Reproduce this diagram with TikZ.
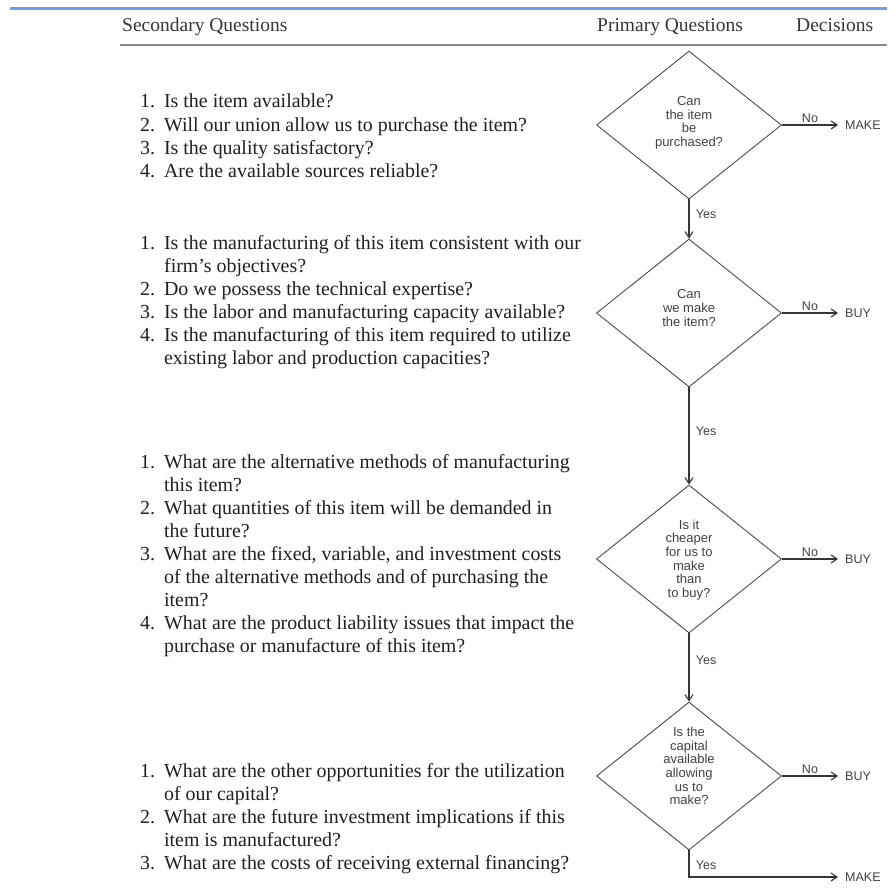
\documentclass[tikz,border=0pt]{standalone}
\usepackage{fontspec}
\setmainfont{Liberation Serif}
\setsansfont{Liberation Sans}
\usetikzlibrary{shapes.geometric,arrows.meta}
\definecolor{ink}{HTML}{231F20}
\definecolor{topblue}{HTML}{6F9FE6}
\definecolor{rulegray}{HTML}{8C8C8C}

\begin{document}
\begin{tikzpicture}[x=1pt,y=-1pt,
  question/.style={draw=ink!80, line width=0.9pt, shape=diamond,
    minimum width=185pt, minimum height=148pt, inner sep=0pt},
  qtext/.style={font=\sffamily\fontsize{13}{13.6}\selectfont, align=center,
    text=ink!85, inner sep=0pt},
  decision/.style={font=\sffamily\fontsize{12.5}{15}\selectfont, text=ink!85,
    anchor=west, inner xsep=7pt, inner ysep=0pt},
  flow/.style={draw=ink!90, line width=1.7pt,
    -{Straight Barb[length=6pt,width=8pt,line width=1.1pt]}},
  tag/.style={font=\sffamily\fontsize{12.5}{15}\selectfont, text=ink!85, inner sep=2pt},
  secondary/.style={font=\fontsize{19.9}{23.1}\selectfont, text=ink,
    anchor=base west, inner sep=0pt},
  header/.style={font=\fontsize{19.5}{23}\selectfont, text=ink!90,
    anchor=base west, inner sep=0pt}
]
% page and frame
\useasboundingbox (0,0) rectangle (887,888);
\fill[white] (0,0) rectangle (887,888);
\draw[topblue, line width=3pt] (10,9) -- (887,9);

% column headings
\node[header] (hsec) at (122,32) {Secondary Questions};
\node[header] (hpri) at (597,32) {Primary Questions};
\node[header] (hdec) at (796,32) {Decisions};
\draw[rulegray, line width=2.5pt] (120,45) -- (887,45);

% secondary questions
\node[secondary] (s1) at (140,108) {\begin{tabular}[t]{@{}l@{\hspace{9pt}}l@{}}
1. & Is the item available?\\
2. & Will our union allow us to purchase the item?\\
3. & Is the quality satisfactory?\\
4. & Are the available sources reliable?
\end{tabular}};

\node[secondary] (s2) at (140,249) {\begin{tabular}[t]{@{}l@{\hspace{9pt}}l@{}}
1. & Is the manufacturing of this item consistent with our\\
   & firm's objectives?\\
2. & Do we possess the technical expertise?\\
3. & Is the labor and manufacturing capacity available?\\
4. & Is the manufacturing of this item required to utilize\\
   & existing labor and production capacities?
\end{tabular}};

\node[secondary] (s3) at (140,468) {\begin{tabular}[t]{@{}l@{\hspace{9pt}}l@{}}
1. & What are the alternative methods of manufacturing\\
   & this item?\\
2. & What quantities of this item will be demanded in\\
   & the future?\\
3. & What are the fixed, variable, and investment costs\\
   & of the alternative methods and of purchasing the\\
   & item?\\
4. & What are the product liability issues that impact the\\
   & purchase or manufacture of this item?
\end{tabular}};

\node[secondary] (s4) at (140,777) {\begin{tabular}[t]{@{}l@{\hspace{9pt}}l@{}}
1. & What are the other opportunities for the utilization\\
   & of our capital?\\
2. & What are the future investment implications if this\\
   & item is manufactured?\\
3. & What are the costs of receiving external financing?
\end{tabular}};

% primary questions (text nudged within each diamond)
\node[question] (q1) at (689,125) {};
\node[qtext] (t1) at ([yshift=2pt]q1.center) {Can\\the item\\be\\purchased?};
\node[question] (q2) at (689,313) {};
\node[qtext] (t2) at ([yshift=5pt]q2.center) {Can\\we make\\the item?};
\node[question] (q3) at (689,559) {};
\node[qtext] (t3) at ([yshift=-1pt]q3.center) {Is it\\cheaper\\for us to\\make\\than\\to buy?};
\node[question] (q4) at (689,776) {};
\node[qtext] (t4) at ([yshift=10pt]q4.center) {Is the\\capital\\available\\allowing\\us to\\make?};

% decisions
\node[decision] (d1) at (838,125) {MAKE};
\node[decision] (d2) at (838,313) {BUY};
\node[decision] (d3) at (838,559) {BUY};
\node[decision] (d4) at (838,776) {BUY};
\node[decision] (d5) at (838,877) {MAKE};

% connectors
\draw[flow] (q1.east) -- (d1.west) node[tag, midway, above] {No};
\draw[flow] (q2.east) -- (d2.west) node[tag, midway, above] {No};
\draw[flow] (q3.east) -- (d3.west) node[tag, midway, above] {No};
\draw[flow] (q4.east) -- (d4.west) node[tag, midway, above] {No};

\draw[flow] (q1.south) -- (q2.north) node[tag, pos=0.38, right, xshift=4pt] {Yes};
\draw[flow] (q2.south) -- (q3.north) node[tag, pos=0.45, right, xshift=4pt] {Yes};
\draw[flow] (q3.south) -- (q4.north) node[tag, pos=0.39, right, xshift=4pt] {Yes};
\draw[flow] (q4.south) |- (d5.west) node[tag, pos=0.28, right, xshift=4pt] {Yes};
\end{tikzpicture}
\end{document}
